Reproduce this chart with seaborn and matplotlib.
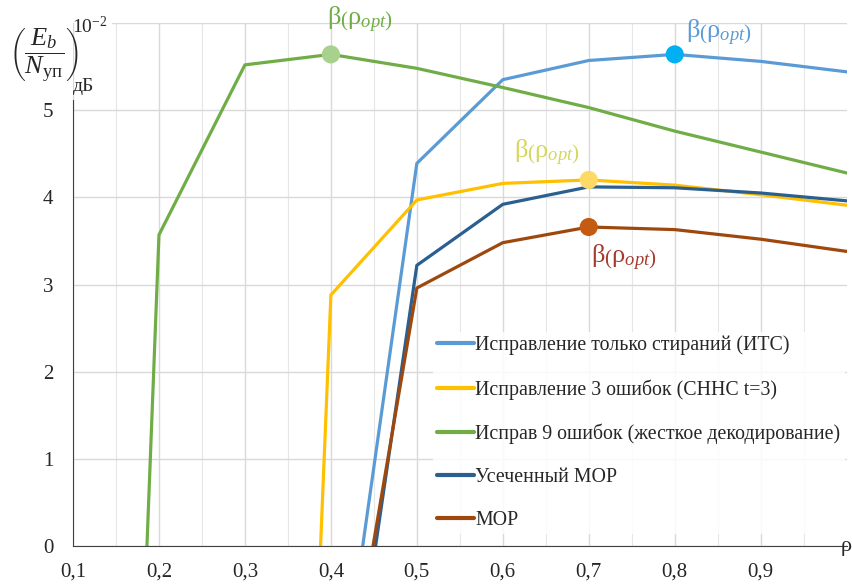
import pandas as pd
import matplotlib
matplotlib.use("Agg")
import matplotlib.pyplot as plt
import seaborn as sns

# --- data ---
series_names = [
    "Исправление только стираний (ИТС)",
    "Исправление 3 ошибок (СННС t=3)",
    "Исправ 9 ошибок (жесткое декодирование)",
    "Усеченный МОР",
    "МОР",
]

its_x = [0.437, 0.5, 0.6, 0.7, 0.8, 0.9, 1.0]
its_y = [0, 4.39, 5.35, 5.57, 5.64, 5.56, 5.44]

snns_x = [0.388, 0.4, 0.5, 0.6, 0.7, 0.8, 0.9, 1.0]
snns_y = [0, 2.88, 3.97, 4.16, 4.20, 4.14, 4.03, 3.91]

hard_x = [0.186, 0.2, 0.3, 0.4, 0.5, 0.6, 0.7, 0.8, 0.9, 1.0]
hard_y = [0, 3.57, 5.52, 5.64, 5.48, 5.26, 5.03, 4.76, 4.52, 4.28]

trunc_x = [0.452, 0.5, 0.6, 0.7, 0.8, 0.9, 1.0]
trunc_y = [0, 3.22, 3.92, 4.12, 4.11, 4.05, 3.96]

mor_x = [0.449, 0.5, 0.6, 0.7, 0.8, 0.9, 1.0]
mor_y = [0, 2.96, 3.48, 3.66, 3.63, 3.52, 3.38]

# optimum points (rho_opt) per curve
opt_x = [0.8, 0.7, 0.4, 0.7]
opt_y = [5.64, 4.20, 5.64, 3.66]

line_colors = ["#5b9bd5", "#ffc000", "#70ad47", "#2a5f8f", "#9e480e"]
opt_colors = ["#00b0f0", "#ffd966", "#a9d18e", "#c55a11"]
label_colors = ["#5b9bd5", "#d6d65c", "#70ad47", "#a33b2e"]

x_ticks = [0.1, 0.2, 0.3, 0.4, 0.5, 0.6, 0.7, 0.8, 0.9]
x_tick_labels = ["0,1", "0,2", "0,3", "0,4", "0,5", "0,6", "0,7", "0,8", "0,9"]
y_ticks = [0, 1, 2, 3, 4, 5]

# long table for seaborn
frames = []
for name, xs, ys in zip(series_names,
                        [its_x, snns_x, hard_x, trunc_x, mor_x],
                        [its_y, snns_y, hard_y, trunc_y, mor_y]):
    frames.append(pd.DataFrame({"rho": xs, "val": ys, "series": name}))
df = pd.concat(frames, ignore_index=True)

sns.set_style("white")
plt.rcParams["font.family"] = ["Liberation Serif", "DejaVu Serif"]
plt.rcParams["mathtext.fontset"] = "custom"
plt.rcParams["mathtext.rm"] = "Liberation Serif"
plt.rcParams["mathtext.it"] = "Liberation Serif:italic"
plt.rcParams["mathtext.bf"] = "Liberation Serif:bold"

fig = plt.figure(figsize=(8.52, 5.87), dpi=100)
ax = fig.add_axes([0.0857, 0.0698, 0.908, 0.891])

sns.lineplot(data=df, x="rho", y="val", hue="series", hue_order=series_names,
             palette=line_colors, linewidth=2.3, estimator=None, sort=False,
             ax=ax, legend=True)

sns.scatterplot(x=opt_x, y=opt_y, hue=list(range(4)), palette=opt_colors,
                s=170, edgecolor="none", legend=False, ax=ax, zorder=5)

# annotations beta(rho_opt)
lab = r"$\mathrm{β}\left(\mathrm{ρ}_{opt}\right)$"
ax.text(0.434, 6.03, lab, color=label_colors[2], fontsize=19, ha="center", va="center", clip_on=False)
ax.text(0.851, 5.89, lab, color=label_colors[0], fontsize=19, ha="center", va="center")
ax.text(0.652, 4.51, lab, color=label_colors[1], fontsize=19, ha="center", va="center")
ax.text(0.741, 3.30, lab, color=label_colors[3], fontsize=19, ha="center", va="center")

ax.set_xlim(0.1, 1.0)
ax.set_ylim(0, 6)
ax.set_xticks(x_ticks)
ax.set_xticklabels(x_tick_labels)
ax.set_yticks(y_ticks)
ax.set_xticks([0.15 + 0.1 * i for i in range(9)], minor=True)
ax.tick_params(axis="both", which="both", length=0, labelsize=15)
ax.tick_params(axis="x", pad=12)
ax.tick_params(axis="y", pad=14)

ax.grid(True, which="major", color="#d9d9d9", linewidth=1)
ax.grid(True, which="minor", axis="x", color="#e6e6e6", linewidth=0.8)
ax.axhline(6, xmin=0.05, color="#d9d9d9", linewidth=1)
ax.set_axisbelow(True)

for side in ["top", "right"]:
    ax.spines[side].set_visible(False)
ax.spines["left"].set_color("#404040")
ax.spines["bottom"].set_color("#404040")
ax.spines["left"].set_bounds(0, 5.12)
ax.set_xlabel("")
ax.set_ylabel("")

ax.text(1.0, 0.0, "ρ", fontsize=16, ha="center", va="center", clip_on=False)

# y-axis label: (Eb / Nуп)дБ x 10^-2
fig.text(0.010, 0.906, r"$\left(\dfrac{E_b}{N_{\mathrm{уп}}}\right)$",
         fontsize=19, ha="left", va="center")
fig.text(0.085, 0.955, r"$10^{-2}$", fontsize=14, ha="left", va="center")
fig.text(0.085, 0.852, "дБ", fontsize=14, ha="left", va="center")

handles, labels = ax.get_legend_handles_labels()
leg = ax.legend(handles, labels, loc="upper left", bbox_to_anchor=(0.465, 0.41),
                frameon=True, fontsize=14.3, handlelength=1.9, handletextpad=0.05,
                labelspacing=1.2, borderpad=0.2, borderaxespad=0)
leg.get_frame().set_facecolor("white")
leg.get_frame().set_edgecolor("none")
leg.get_frame().set_alpha(0.85)
for line in leg.get_lines():
    line.set_linewidth(3)

fig.savefig("out.png", dpi=100)
